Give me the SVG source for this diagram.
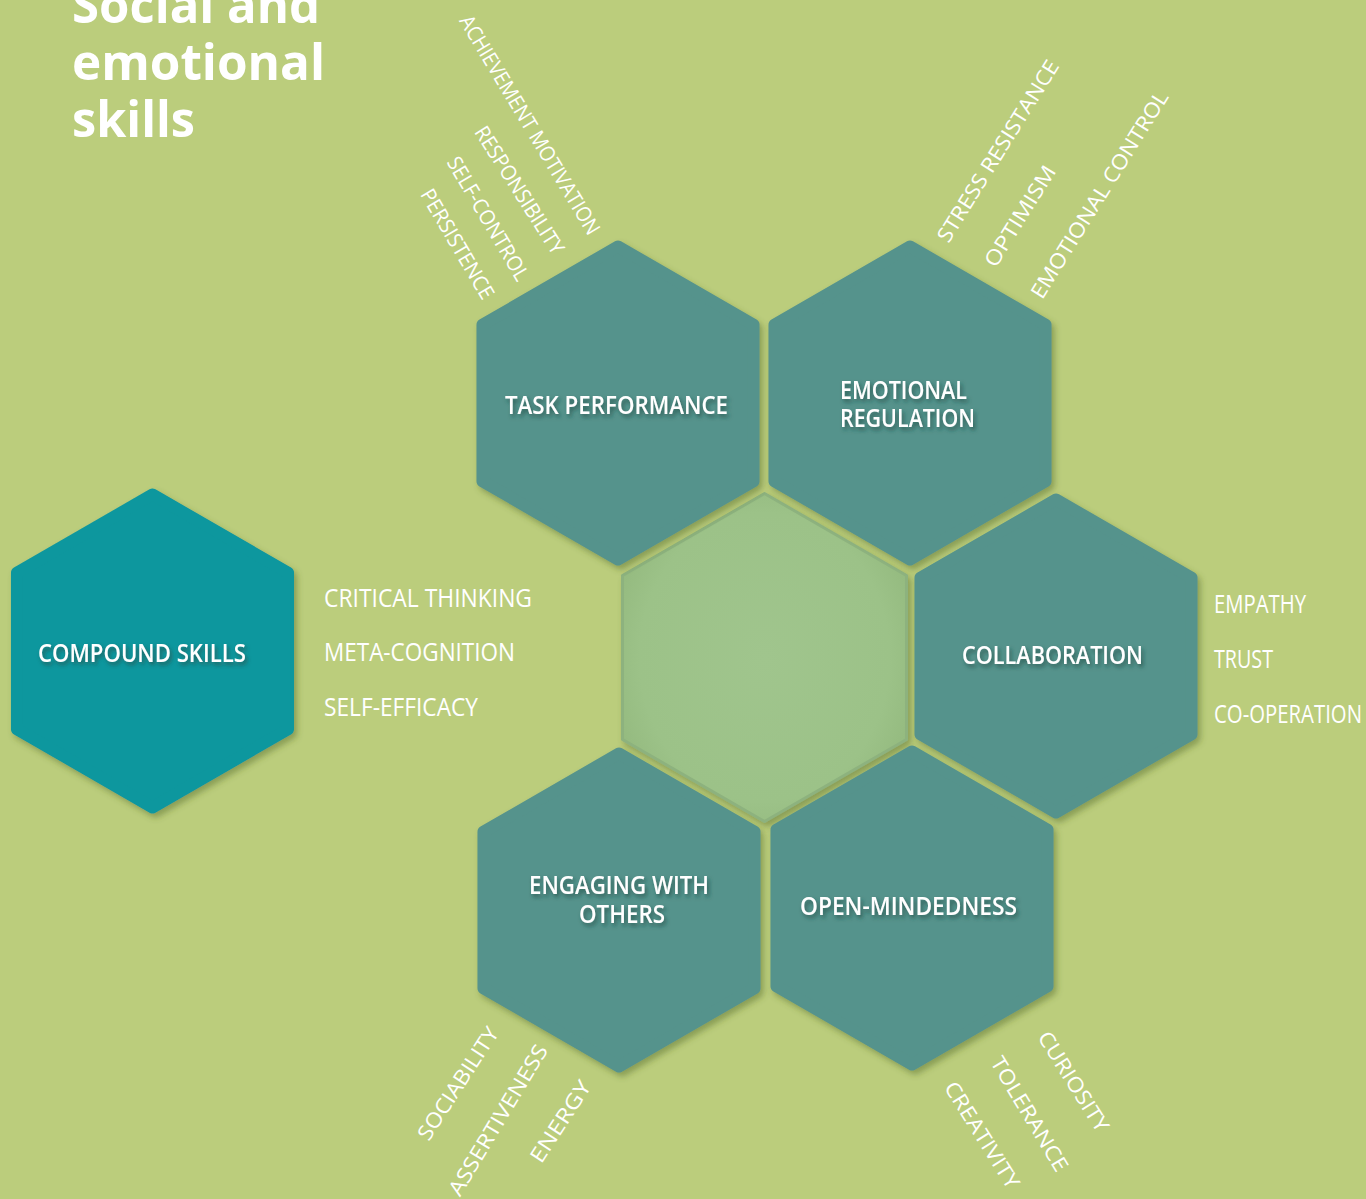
<svg xmlns="http://www.w3.org/2000/svg" width="1366" height="1199" viewBox="0 0 1366 1199">
<defs>
  <polygon id="hx" points="0,-156.5 135.53,-78.25 135.53,78.25 0,156.5 -135.53,78.25 -135.53,-78.25"/>
  <filter id="hshadow" x="-20%" y="-20%" width="140%" height="140%">
    <feDropShadow dx="3" dy="4" stdDeviation="3" flood-color="#4a6420" flood-opacity="0.45"/>
  </filter>
  <filter id="tshadow" x="-10%" y="-50%" width="120%" height="200%">
    <feDropShadow dx="2" dy="3" stdDeviation="2" flood-color="#1f4540" flood-opacity="0.7"/>
  </filter>
  <radialGradient id="cg" cx="0.5" cy="0.5" r="0.55">
    <stop offset="0" stop-color="#a0c58d"/>
    <stop offset="0.8" stop-color="#9cc288"/>
    <stop offset="1" stop-color="#95bb80"/>
  </radialGradient>
  <style>
    .teal{fill:#55938c;stroke:#55938c;stroke-width:12;stroke-linejoin:round}
    .cmp{fill:#0e979e;stroke:#0e979e;stroke-width:12;stroke-linejoin:round}
    .lbl{font-family:"Open Sans","DejaVu Sans",sans-serif;font-size:25px;font-weight:600;fill:#ffffff}
    .node{filter:url(#tshadow)}
    .side{font-family:"Open Sans","DejaVu Sans",sans-serif;font-size:25px;font-weight:500;fill:#ffffff}
    .rot{font-family:"Open Sans","DejaVu Sans",sans-serif;font-size:21px;fill:#ffffff;text-anchor:middle}
    .title{font-family:"Open Sans","DejaVu Sans",sans-serif;font-size:50px;font-weight:bold;fill:#ffffff}
  </style>
</defs>
<rect width="1366" height="1199" fill="#bbcd7c"/>

<g id="title">
  <text class="title" x="72" y="23" textLength="248" lengthAdjust="spacingAndGlyphs">Social and</text>
  <text class="title" x="72" y="80" textLength="253" lengthAdjust="spacingAndGlyphs">emotional</text>
  <text class="title" x="72" y="137" textLength="123" lengthAdjust="spacingAndGlyphs">skills</text>
</g>

<g id="connectors"></g>

<g id="center-hex" filter="url(#hshadow)">
  <polygon points="764.5,493.5 906.5,575.5 906.5,739.5 764.5,821.5 622.5,739.5 622.5,575.5" fill="url(#cg)" stroke="#8db27e" stroke-width="3" stroke-linejoin="round"/>
</g>

<g id="task-performance" filter="url(#hshadow)">
  <use href="#hx" class="teal" transform="translate(618,403)"/>
  <text class="lbl node" x="616.5" y="413.5" text-anchor="middle" textLength="223" lengthAdjust="spacingAndGlyphs">TASK PERFORMANCE</text>
</g>

<g id="emotional-regulation" filter="url(#hshadow)">
  <use href="#hx" class="teal" transform="translate(910,403)"/>
  <text class="lbl node" x="840" y="398.5" textLength="127" lengthAdjust="spacingAndGlyphs">EMOTIONAL</text>
  <text class="lbl node" x="840" y="426.5" textLength="135" lengthAdjust="spacingAndGlyphs">REGULATION</text>
</g>

<g id="collaboration" filter="url(#hshadow)">
  <use href="#hx" class="teal" transform="translate(1056,656)"/>
  <text class="lbl node" x="962" y="664" textLength="181" lengthAdjust="spacingAndGlyphs">COLLABORATION</text>
</g>

<g id="engaging-with-others" filter="url(#hshadow)">
  <use href="#hx" class="teal" transform="translate(619,910)"/>
  <text class="lbl node" x="619" y="894" text-anchor="middle" textLength="180" lengthAdjust="spacingAndGlyphs">ENGAGING WITH</text>
  <text class="lbl node" x="622" y="923" text-anchor="middle" textLength="86" lengthAdjust="spacingAndGlyphs">OTHERS</text>
</g>

<g id="open-mindedness" filter="url(#hshadow)">
  <use href="#hx" class="teal" transform="translate(912,908)"/>
  <text class="lbl node" x="800" y="915" textLength="217" lengthAdjust="spacingAndGlyphs">OPEN-MINDEDNESS</text>
</g>

<g id="compound-skills" filter="url(#hshadow)">
  <use href="#hx" class="cmp" transform="translate(152.5,651)"/>
  <text class="lbl node" x="38" y="661.5" textLength="208" lengthAdjust="spacingAndGlyphs">COMPOUND SKILLS</text>
</g>

<g id="compound-list">
  <text class="side" x="324" y="607.3" textLength="208" lengthAdjust="spacingAndGlyphs">CRITICAL THINKING</text>
  <text class="side" x="324" y="661" textLength="191" lengthAdjust="spacingAndGlyphs">META-COGNITION</text>
  <text class="side" x="324" y="715.7" textLength="154" lengthAdjust="spacingAndGlyphs">SELF-EFFICACY</text>
</g>

<g id="collaboration-list">
  <text class="side" x="1214" y="613.3" textLength="92" lengthAdjust="spacingAndGlyphs">EMPATHY</text>
  <text class="side" x="1214" y="668" textLength="59" lengthAdjust="spacingAndGlyphs">TRUST</text>
  <text class="side" x="1214" y="723" textLength="148" lengthAdjust="spacingAndGlyphs">CO-OPERATION</text>
</g>

<g id="task-list">
  <text class="rot" transform="translate(530,125) rotate(59)" dy="0.35em" textLength="252" lengthAdjust="spacingAndGlyphs">ACHIEVEMENT MOTIVATION</text>
  <text class="rot" transform="translate(519.5,190) rotate(57.5)" dy="0.35em" textLength="147" lengthAdjust="spacingAndGlyphs">RESPONSIBILITY</text>
  <text class="rot" transform="translate(488,218.5) rotate(59.5)" dy="0.35em" textLength="140" lengthAdjust="spacingAndGlyphs">SELF-CONTROL</text>
  <text class="rot" transform="translate(457.5,244) rotate(59.5)" dy="0.35em" textLength="124" lengthAdjust="spacingAndGlyphs">PERSISTENCE</text>
</g>

<g id="emotional-list">
  <text class="rot" transform="translate(998,151) rotate(-58)" dy="0.35em" textLength="210" lengthAdjust="spacingAndGlyphs">STRESS RESISTANCE</text>
  <text class="rot" transform="translate(1020,216) rotate(-58)" dy="0.35em" textLength="115" lengthAdjust="spacingAndGlyphs">OPTIMISM</text>
  <text class="rot" transform="translate(1099.5,194.5) rotate(-58)" dy="0.35em" textLength="240" lengthAdjust="spacingAndGlyphs">EMOTIONAL CONTROL</text>
</g>

<g id="engaging-list">
  <text class="rot" transform="translate(458,1083.5) rotate(-57)" dy="0.35em" textLength="130" lengthAdjust="spacingAndGlyphs">SOCIABILITY</text>
  <text class="rot" transform="translate(498,1120) rotate(-59)" dy="0.35em" textLength="172" lengthAdjust="spacingAndGlyphs">ASSERTIVENESS</text>
  <text class="rot" transform="translate(560.5,1121.5) rotate(-57)" dy="0.35em" textLength="93" lengthAdjust="spacingAndGlyphs">ENERGY</text>
</g>

<g id="open-list">
  <text class="rot" transform="translate(1073.5,1081.5) rotate(58)" dy="0.35em" textLength="114" lengthAdjust="spacingAndGlyphs">CURIOSITY</text>
  <text class="rot" transform="translate(1029.5,1114) rotate(59)" dy="0.35em" textLength="130" lengthAdjust="spacingAndGlyphs">TOLERANCE</text>
  <text class="rot" transform="translate(982,1135) rotate(58)" dy="0.35em" textLength="122" lengthAdjust="spacingAndGlyphs">CREATIVITY</text>
</g>
</svg>
